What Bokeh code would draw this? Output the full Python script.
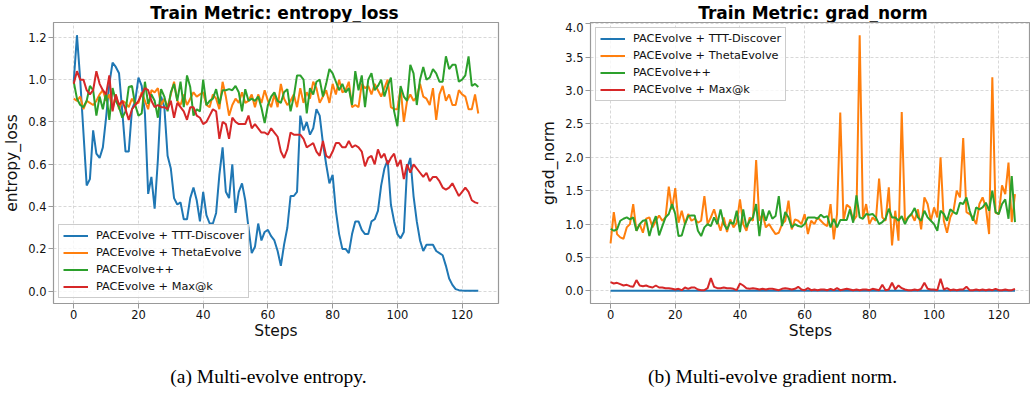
from bokeh.plotting import figure
from bokeh.models import Range1d, Legend, LegendItem, FixedTicker, PrintfTickFormatter
from bokeh.layouts import row, column
from bokeh.core.properties import value
from bokeh.embed import file_html
from bokeh.resources import INLINE

steps = list(range(126))

series_names = ["PACEvolve + TTT-Discover", "PACEvolve + ThetaEvolve", "PACEvolve++", "PACEvolve + Max@k"]
series_colors = ["#1f77b4", "#ff7f0e", "#2ca02c", "#d62728"]

x_ticks = [0, 20, 40, 60, 80, 100, 120]
y_ticks_entropy = [0.0, 0.2, 0.4, 0.6, 0.8, 1.0, 1.2]
y_ticks_grad = [0.0, 0.5, 1.0, 1.5, 2.0, 2.5, 3.0, 3.5, 4.0]

titles = ["Train Metric: entropy_loss", "Train Metric: grad_norm"]
y_labels = ["entropy_loss", "grad_norm"]
x_label = "Steps"
captions = ["(a) Multi-evolve entropy.", "(b) Multi-evolve gradient norm."]

# ---- entropy_loss ----
ttt_entropy = [
    0.99, 1.21, 1.00, 0.75, 0.50, 0.53, 0.76, 0.65, 0.63, 0.68,
    0.82, 0.98, 1.08, 1.06, 1.03, 0.85, 0.66, 0.66, 0.86, 0.90,
    1.01, 0.97, 0.84, 0.46, 0.54, 0.39, 0.62, 0.92, 0.87, 0.64,
    0.58, 0.44, 0.41, 0.42, 0.34, 0.34, 0.44, 0.49, 0.43, 0.33,
    0.47, 0.36, 0.32, 0.32, 0.37, 0.55, 0.68, 0.47, 0.44, 0.60,
    0.37, 0.47, 0.51, 0.43, 0.30, 0.18, 0.21, 0.32, 0.24, 0.28,
    0.29, 0.26, 0.24, 0.19, 0.12, 0.22, 0.30, 0.45, 0.45, 0.47,
    0.83, 0.76, 0.80, 0.74, 0.77, 0.86, 0.83, 0.70, 0.60, 0.51,
    0.55, 0.38, 0.27, 0.20, 0.20, 0.18, 0.27, 0.33, 0.33, 0.29,
    0.27, 0.27, 0.33, 0.34, 0.38, 0.50, 0.58, 0.62, 0.41, 0.33,
    0.27, 0.25, 0.28, 0.58, 0.63, 0.45, 0.33, 0.24, 0.19, 0.22,
    0.22, 0.22, 0.19, 0.18, 0.17, 0.12, 0.06, 0.03, 0.01, 0.005,
    0.003, 0.002, 0.002, 0.002, 0.002, 0.002,
]
theta_entropy = [
    0.91, 0.90, 0.92, 0.86, 0.90, 0.89, 0.88, 0.90, 0.93, 0.95,
    0.90, 0.93, 0.86, 0.93, 0.86, 0.90, 0.89, 0.87, 0.91, 0.885,
    0.89, 0.94, 0.90, 0.86, 0.95, 0.94, 0.96, 0.88, 0.91, 0.87,
    0.93, 0.99, 0.90, 0.88, 0.93, 0.88, 0.91, 0.94, 0.92, 0.93,
    0.94, 0.88, 0.87, 0.93, 0.91, 0.86, 0.99, 0.92, 0.83, 0.88,
    0.91, 0.89, 0.94, 0.89, 0.90, 0.93, 0.87, 0.93, 0.89, 0.95,
    0.90, 0.87, 0.93, 0.87, 0.98, 0.91, 0.88, 0.90, 0.93, 0.87,
    0.96, 0.89, 0.94, 0.91, 0.99, 0.96, 0.89, 0.92, 0.95, 0.89,
    0.98, 0.93, 1.00, 0.94, 0.95, 0.99, 0.87, 0.88, 0.87, 0.98,
    0.96, 0.97, 0.93, 0.98, 0.95, 0.92, 0.96, 1.00, 0.87, 0.86,
    0.86, 0.96, 0.80, 0.90, 0.93, 0.90, 0.92, 0.98, 0.92, 0.91,
    0.88, 0.96, 0.81, 0.93, 0.97, 0.90, 0.93, 0.88, 0.88, 0.95,
    0.93, 0.92, 0.86, 0.86, 0.93, 0.84,
]
pp_entropy = [
    0.99, 0.91, 0.88, 0.87, 0.90, 0.97, 0.95, 0.83, 0.92, 0.86,
    0.94, 0.81, 0.96, 0.90, 0.87, 0.82, 0.85, 0.965, 0.97, 0.88,
    0.83, 0.84, 0.99, 0.885, 0.93, 0.90, 0.82, 0.955, 0.92, 0.85,
    0.94, 0.98, 0.90, 0.99, 0.87, 1.02, 0.965, 0.83, 0.86, 0.85,
    1.00, 0.88, 0.90, 0.91, 0.955, 0.885, 0.95, 0.95, 0.955, 0.95,
    0.97, 0.94, 0.85, 0.955, 0.90, 0.91, 0.90, 0.92, 0.867, 0.795,
    0.88, 0.92, 0.94, 0.90, 0.89, 0.94, 0.955, 0.85, 0.92, 1.02,
    1.02, 1.00, 0.84, 0.96, 0.93, 0.99, 1.00, 0.92, 0.98, 1.05,
    1.03, 0.99, 0.95, 0.98, 0.94, 0.96, 0.88, 1.04, 0.95, 1.02,
    0.87, 1.00, 1.03, 0.95, 0.97, 1.00, 0.92, 0.97, 1.01, 0.85,
    0.78, 0.97, 0.92, 0.90, 1.07, 1.03, 0.88, 1.00, 1.06, 1.00,
    1.01, 1.05, 1.03, 0.99, 0.99, 1.11, 1.05, 1.07, 1.07, 0.99,
    1.00, 1.02, 1.11, 0.97, 0.98, 0.965,
]
maxk_entropy = [
    0.98, 1.04, 1.00, 1.00, 0.95, 0.93, 0.95, 1.04, 0.98, 0.95,
    0.93, 1.02, 0.85, 0.93, 0.88, 0.90, 0.86, 0.81, 0.86, 0.88,
    0.90, 0.93, 0.96, 0.95, 0.90, 0.87, 0.88, 0.87, 0.87, 0.86,
    0.90, 0.82, 0.89, 0.87, 0.85, 0.81, 0.87, 0.87, 0.83, 0.82,
    0.79, 0.80, 0.83, 0.86, 0.85, 0.72, 0.80, 0.79, 0.72, 0.82,
    0.80, 0.79, 0.79, 0.79, 0.83, 0.77, 0.79, 0.77, 0.75, 0.75,
    0.74, 0.77, 0.75, 0.73, 0.66, 0.63, 0.67, 0.75, 0.74, 0.74,
    0.74, 0.72, 0.68, 0.69, 0.70, 0.66, 0.64, 0.71, 0.64, 0.63,
    0.66, 0.70, 0.70, 0.68, 0.68, 0.71, 0.68, 0.69, 0.68, 0.66,
    0.59, 0.63, 0.64, 0.60, 0.67, 0.63, 0.65, 0.60, 0.63, 0.65,
    0.59, 0.62, 0.53, 0.60, 0.56, 0.60, 0.58, 0.56, 0.54, 0.56,
    0.52, 0.54, 0.54, 0.52, 0.49, 0.48, 0.49, 0.51, 0.48, 0.45,
    0.47, 0.49, 0.47, 0.43, 0.42, 0.415,
]

# ---- grad_norm ----
ttt_grad = [
    0.001, 0.001, 0.001, 0.001, 0.001, 0.001, 0.001, 0.001, 0.001, 0.001,
    0.001, 0.001, 0.001, 0.001, 0.001, 0.001, 0.001, 0.001, 0.001, 0.001,
    0.001, 0.001, 0.001, 0.001, 0.001, 0.001, 0.001, 0.001, 0.001, 0.001,
    0.001, 0.001, 0.001, 0.001, 0.001, 0.001, 0.001, 0.001, 0.001, 0.001,
    0.001, 0.001, 0.001, 0.001, 0.001, 0.001, 0.001, 0.001, 0.001, 0.001,
    0.001, 0.001, 0.001, 0.001, 0.001, 0.001, 0.001, 0.001, 0.001, 0.001,
    0.001, 0.001, 0.001, 0.001, 0.001, 0.001, 0.001, 0.001, 0.001, 0.001,
    0.001, 0.001, 0.001, 0.001, 0.001, 0.001, 0.001, 0.001, 0.001, 0.001,
    0.001, 0.001, 0.001, 0.001, 0.001, 0.001, 0.001, 0.001, 0.001, 0.001,
    0.001, 0.001, 0.001, 0.001, 0.001, 0.001, 0.001, 0.001, 0.001, 0.001,
    0.001, 0.001, 0.001, 0.001, 0.001, 0.001, 0.001, 0.001, 0.001, 0.001,
    0.001, 0.001, 0.001, 0.001, 0.001, 0.001, 0.001, 0.001, 0.001, 0.001,
    0.001, 0.001, 0.001, 0.001, 0.001, 0.001,
]
theta_grad = [
    0.71, 1.18, 0.85, 0.80, 0.78, 0.95, 1.00, 1.30, 0.90, 1.00,
    0.87, 1.08, 1.10, 0.95, 1.05, 1.13, 1.05, 1.10, 1.56, 1.22,
    1.54, 1.02, 1.20, 1.00, 1.15, 1.05, 1.08, 1.02, 1.05, 1.42,
    1.00, 1.10, 1.22, 1.05, 0.90, 1.10, 0.88, 1.07, 0.95, 1.02,
    1.37, 1.00, 0.90, 1.10, 1.05, 1.96, 1.05, 1.15, 0.95, 1.00,
    0.92, 0.85, 0.87, 1.00, 1.05, 1.35, 0.92, 1.07, 1.05, 1.00,
    1.15, 0.85, 1.05, 1.00, 1.10, 1.05, 1.00, 0.97, 1.30, 0.77,
    1.15, 2.67, 1.05, 1.29, 1.25, 1.05, 1.12, 3.83, 1.10, 1.30,
    1.00, 1.10, 1.05, 1.68, 1.10, 1.05, 1.55, 0.68, 1.20, 0.75,
    2.68, 1.05, 1.10, 1.15, 1.05, 1.22, 0.92, 1.40, 1.30, 1.05,
    1.25, 1.10, 2.00, 1.05, 0.87, 1.10, 1.20, 1.50, 1.40, 2.29,
    1.18, 1.15, 1.10, 1.00, 1.30, 1.40, 1.25, 0.85, 3.20, 1.17,
    1.15, 1.58, 1.45, 1.92, 1.03, 1.45,
]
pp_grad = [
    0.93, 0.90, 0.92, 1.05, 1.08, 1.10, 1.07, 1.10, 0.90, 1.00,
    1.05, 1.06, 0.82, 1.00, 1.12, 0.83, 0.97, 1.10, 1.15, 1.30,
    1.15, 0.82, 0.83, 1.00, 1.12, 1.13, 1.13, 0.90, 0.82, 0.95,
    1.00, 0.97, 1.10, 1.00, 1.22, 1.00, 0.92, 1.03, 1.00, 1.20,
    0.88, 1.22, 0.95, 1.05, 1.10, 1.30, 0.82, 1.22, 1.05, 1.20,
    1.08, 1.12, 1.42, 0.97, 1.18, 1.10, 0.95, 1.00, 0.97, 0.96,
    1.00, 1.10, 1.10, 1.10, 1.08, 1.14, 1.10, 1.12, 0.95, 1.08,
    0.95, 1.06, 1.06, 1.06, 1.22, 1.02, 1.43, 1.10, 1.08, 1.15,
    1.14, 1.15, 1.10, 1.00, 1.03, 1.08, 1.23, 1.10, 1.10, 1.05,
    1.12, 1.00, 1.10, 1.15, 1.24, 1.10, 1.05, 1.20, 1.10, 1.05,
    1.00, 0.90, 1.20, 1.15, 1.05, 1.22, 1.18, 1.15, 1.32, 1.30,
    1.40, 1.20, 1.05, 1.25, 1.22, 1.25, 1.32, 1.20, 1.50, 1.18,
    1.15, 1.30, 1.37, 1.08, 1.72, 1.03,
]
maxk_grad = [
    0.13, 0.11, 0.12, 0.10, 0.08, 0.09, 0.07, 0.06, 0.16, 0.08,
    0.07, 0.08, 0.06, 0.05, 0.08, 0.05, 0.05, 0.04, 0.04, 0.03,
    0.02, 0.03, 0.01, 0.05, 0.03, 0.05, 0.05, 0.02, 0.01, 0.01,
    0.04, 0.19, 0.06, 0.04, 0.04, 0.05, 0.04, 0.04, 0.03, 0.01,
    0.11, 0.08, 0.04, 0.03, 0.04, 0.03, 0.02, 0.03, 0.02, 0.03,
    0.03, 0.02, 0.01, 0.03, 0.04, 0.03, 0.02, 0.03, 0.06, 0.02,
    0.01, 0.04, 0.01, 0.02, 0.01, 0.02, 0.02, 0.01, 0.03, 0.01,
    0.04, 0.01, 0.02, 0.03, 0.02, 0.01, 0.02, 0.01, 0.02, 0.02,
    0.01, 0.03, 0.02, 0.01, 0.09, 0.01, 0.02, 0.12, 0.02, 0.08,
    0.04, 0.02, 0.01, 0.01, 0.02, 0.01, 0.03, 0.12, 0.03, 0.02,
    0.02, 0.01, 0.18, 0.02, 0.04, 0.01, 0.02, 0.01, 0.02, 0.02,
    0.06, 0.01, 0.01, 0.02, 0.01, 0.02, 0.01, 0.02, 0.01, 0.03,
    0.01, 0.01, 0.02, 0.01, 0.01, 0.03,
]

FONT = "DejaVu Sans"
GRID = "#c8c8c8"
FRAME = "#999999"
PANEL_W = 515


def text_strip(height, text, cx, base, font, size, style):
    s = figure(width=PANEL_W, height=height, x_range=Range1d(0, PANEL_W), y_range=Range1d(0, height),
               output_backend="svg", toolbar_location=None, title=None,
               x_axis_location=None, y_axis_location=None, min_border=0)
    s.outline_line_color = None
    s.xgrid.visible = False
    s.ygrid.visible = False
    s.text(x=[cx], y=[base], text=[text], text_align="center", text_baseline="alphabetic",
           text_font=value(font), text_font_size=size, text_font_style=style, text_color="black")
    return s


def build(border_left, border_right, x_rng, y_rng, y_ticks, y_label, data, legend_loc):
    p = figure(width=PANEL_W, height=323, x_range=Range1d(*x_rng), y_range=Range1d(*y_rng),
               output_backend="svg", toolbar_location=None, title=None,
               min_border_left=border_left, min_border_right=border_right,
               min_border_top=0, min_border_bottom=42)
    p.background_fill_color = "white"
    p.border_fill_color = "white"
    p.outline_line_color = FRAME
    p.outline_line_width = 1.2

    p.xaxis.ticker = FixedTicker(ticks=x_ticks)
    p.yaxis.ticker = FixedTicker(ticks=y_ticks)
    p.yaxis.formatter = PrintfTickFormatter(format="%.1f")
    for ax in (p.xaxis, p.yaxis):
        ax.axis_line_color = None
        ax.major_tick_line_color = FRAME
        ax.major_tick_out = 5
        ax.major_tick_in = 0
        ax.minor_tick_line_color = None
        ax.major_label_text_font = FONT
        ax.major_label_text_font_size = "11.5px"
        ax.major_label_text_color = "#111111"
        ax.axis_label_text_font = FONT
        ax.axis_label_text_font_size = "15.5px"
        ax.axis_label_text_font_style = "normal"
        ax.axis_label_text_color = "#111111"
    p.xaxis.axis_label = x_label
    p.yaxis.axis_label = y_label
    p.xaxis.major_label_standoff = 1
    p.yaxis.major_label_standoff = 2
    p.xaxis.axis_label_standoff = 0
    p.yaxis.axis_label_standoff = 4

    for g in (p.xgrid, p.ygrid):
        g.grid_line_color = GRID
        g.grid_line_dash = "3 2"
        g.grid_line_width = 0.8
        g.grid_line_alpha = 0.9

    items = []
    for name, color, ys in zip(series_names, series_colors, data):
        r = p.line(steps, ys, line_color=color, line_width=2)
        items.append(LegendItem(label=name, renderers=[r]))

    legend = Legend(items=items, location=legend_loc, margin=5, padding=4,
                    spacing=4, glyph_width=25, glyph_height=13, label_height=13,
                    label_standoff=8, label_text_font=FONT, label_text_font_size="11.3px",
                    label_text_color="#111111",
                    border_line_color="#cccccc", border_line_alpha=1.0,
                    background_fill_color="white", background_fill_alpha=0.8)
    p.add_layout(legend, "center")
    return p


t1 = text_strip(22, titles[0], 274, 9.3, FONT, "17px", "bold")
t2 = text_strip(22, titles[1], 297.5, 9.3, FONT, "17px", "bold")

p1 = build(52, 17, (-6.25, 131.25), (-0.058, 1.27), y_ticks_entropy, y_labels[0],
           [ttt_entropy, theta_entropy, pp_entropy, maxk_entropy], "bottom_left")
p2 = build(75, 0, (-6.2, 129.8), (-0.19, 4.02), y_ticks_grad, y_labels[1],
           [ttt_grad, theta_grad, pp_grad, maxk_grad], "top_left")

c1 = text_strip(49, captions[0], 268, 18, "Liberation Serif", "19.5px", "normal")
c2 = text_strip(49, captions[1], 257, 18, "Liberation Serif", "19.5px", "normal")

layout = column(row(t1, t2, spacing=0), row(p1, p2, spacing=0), row(c1, c2, spacing=0), spacing=0)
open("out.html", "w").write(file_html(layout, INLINE))
